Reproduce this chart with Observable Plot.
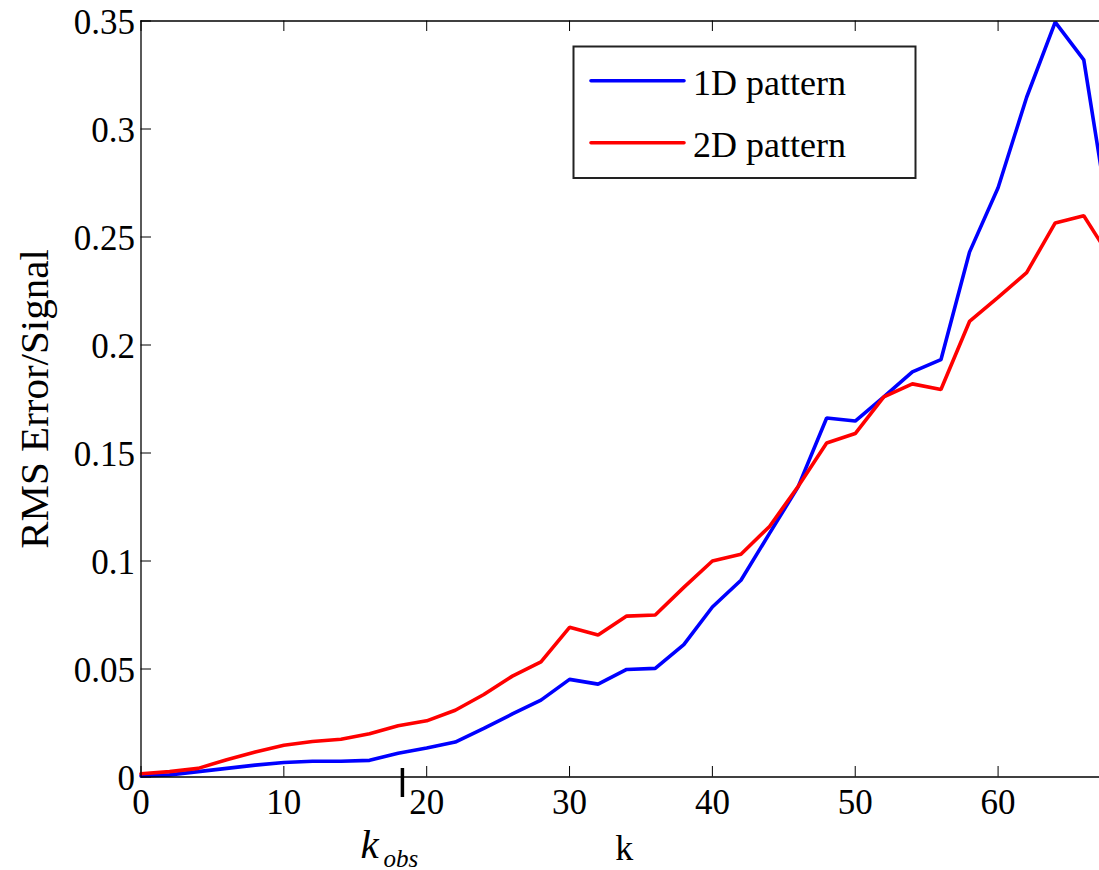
<!DOCTYPE html>
<html>
<head>
<meta charset="utf-8">
<script src="https://cdn.jsdelivr.net/npm/d3@7"></script>
<script src="https://cdn.jsdelivr.net/npm/@observablehq/plot@0.6"></script>
<style>
  html, body { margin: 0; padding: 0; background: #fff; }
  #chart { position: relative; width: 1099px; height: 870px; overflow: hidden; background: #fff; }
  #chart svg { display: block; }
  #legend { position: absolute; left: 572px; top: 45px; }
</style>
</head>
<body>
<div id="chart"></div>
<script>
// ---- data ----
const k = [0, 2, 4, 6, 8, 10, 12, 14, 16, 18, 20, 22, 24, 26, 28, 30, 32, 34, 36, 38, 40, 42, 44, 46, 48, 50, 52, 54, 56, 58, 60, 62, 64, 66, 68];
const rms1D = [0.0005, 0.001, 0.0025, 0.004, 0.0055, 0.0067, 0.0073, 0.0073, 0.0077, 0.011, 0.0134, 0.0162, 0.0225, 0.0292, 0.0356, 0.0452, 0.043, 0.0498, 0.0503, 0.0613, 0.0787, 0.0911, 0.1128, 0.1343, 0.1662, 0.1648, 0.176, 0.1876, 0.1932, 0.243, 0.2728, 0.3147, 0.3495, 0.332, 0.249];
const rms2D = [0.0015, 0.0025, 0.004, 0.008, 0.0116, 0.0147, 0.0164, 0.0175, 0.02, 0.0237, 0.026, 0.0309, 0.0382, 0.0467, 0.0533, 0.0693, 0.0657, 0.0745, 0.075, 0.0878, 0.1, 0.1031, 0.116, 0.1345, 0.1546, 0.159, 0.176, 0.182, 0.1794, 0.2109, 0.222, 0.2335, 0.2565, 0.2598, 0.239];
const seriesNames = ["1D pattern", "2D pattern"];
const seriesColors = ["#0000ff", "#ff0000"];
const xTicks = [0, 10, 20, 30, 40, 50, 60];
const yTicks = [0, 0.05, 0.1, 0.15, 0.2, 0.25, 0.3, 0.35];
const yTickLabels = ["0", "0.05", "0.1", "0.15", "0.2", "0.25", "0.3", "0.35"];
const xDomain = [0, 67.1];
const yDomain = [0, 0.35];
const kObs = 18.3;
const xLabel = "k";
const yLabel = "RMS Error/Signal";
const kObsMain = "k";
const kObsSub = "obs";

// ---- build table ----
const rows = k.flatMap((kk, i) => [
  {k: kk, v: rms1D[i], s: seriesNames[0]},
  {k: kk, v: rms2D[i], s: seriesNames[1]}
]);
rows.sort((a, b) => seriesNames.indexOf(a.s) - seriesNames.indexOf(b.s));

const W = 1099, H = 870;
const mL = 140.5, mR = 0, mT = 20.5, mB = 93.5;
const plotW = W - mL - mR, plotH = H - mT - mB;
const font = "'Liberation Serif', 'Times New Roman', Times, serif";
const tickLen = 10.5;

const chart = Plot.plot({
  width: W, height: H,
  marginLeft: mL, marginRight: mR, marginTop: mT, marginBottom: mB,
  style: {fontFamily: font, fontSize: "35px", color: "#000", background: "#fff"},
  x: {domain: xDomain},
  y: {domain: yDomain},
  color: {domain: seriesNames, range: seriesColors},
  marks: [
    Plot.axisX(xTicks, {tickSize: 0, tickPadding: 12, label: null, fontSize: 35, tickFormat: d => String(d)}),
    Plot.axisY(yTicks, {tickSize: 0, tickPadding: 6, label: null, fontSize: 35, dy: 2, tickFormat: d => yTickLabels[yTicks.indexOf(d)]}),
    // inward ticks (MATLAB style)
    Plot.tickY(yTicks, {y: d => d, insetRight: plotW - tickLen, stroke: "#000", strokeWidth: 1}),
    Plot.tickX(xTicks, {x: d => d, insetTop: plotH - tickLen, stroke: "#000", strokeWidth: 1}),
    Plot.tickX(xTicks, {x: d => d, insetBottom: plotH - tickLen, stroke: "#000", strokeWidth: 1}),
    // data lines
    Plot.line(rows, {x: "k", y: "v", z: "s", stroke: "s", strokeWidth: 3.6, strokeLinejoin: "miter"}),
    // box lines
    Plot.ruleX([xDomain[0]], {stroke: "#000", strokeWidth: 1.3}),
    Plot.ruleY([yDomain[0]], {stroke: "#000", strokeWidth: 1.3}),
    Plot.ruleY([yDomain[1]], {stroke: "#000", strokeWidth: 1.3}),
    // k_obs marker
    Plot.tickX([kObs], {x: d => d, insetTop: plotH - 8.5, insetBottom: -20.5, stroke: "#000", strokeWidth: 3.5}),
    Plot.text([kObs], {x: d => d, frameAnchor: "bottom", text: () => kObsMain, fontStyle: "italic", fontSize: 41, textAnchor: "start", lineAnchor: "bottom", dx: -42, dy: 80.5, fill: "#000"}),
    Plot.text([kObs], {x: d => d, frameAnchor: "bottom", text: () => kObsSub, fontStyle: "italic", fontSize: 25, textAnchor: "start", lineAnchor: "bottom", dx: -19, dy: 89.5, fill: "#000"}),
    // axis titles
    Plot.text([xLabel], {frameAnchor: "bottom", text: d => d, fontSize: 36, textAnchor: "middle", lineAnchor: "bottom", dx: 4, dy: 82.5, fill: "#000"}),
    Plot.text([yLabel], {frameAnchor: "left", text: d => d, fontSize: 41, rotate: -90, textAnchor: "middle", lineAnchor: "middle", dx: -106, fill: "#000"})
  ]
});
const host = document.getElementById("chart");
host.appendChild(chart);

// ---- legend box ----
const lg = d3.select(host).append("svg")
  .attr("id", "legend")
  .attr("width", 346).attr("height", 135)
  .style("font-family", font);
lg.append("rect")
  .attr("x", 1.5).attr("y", 1.5).attr("width", 342).attr("height", 131.5)
  .attr("fill", "#fff").attr("stroke", "#222").attr("stroke-width", 2);
seriesNames.forEach((name, i) => {
  const ly = 35.7 + i * 62;
  lg.append("line")
    .attr("x1", 19).attr("x2", 112).attr("y1", ly).attr("y2", ly)
    .attr("stroke", seriesColors[i]).attr("stroke-width", 3.6).attr("stroke-linecap", "round");
  lg.append("text")
    .attr("x", 121).attr("y", ly + 14.5)
    .attr("font-size", 36).attr("fill", "#000")
    .text(name);
});
</script>
</body>
</html>
